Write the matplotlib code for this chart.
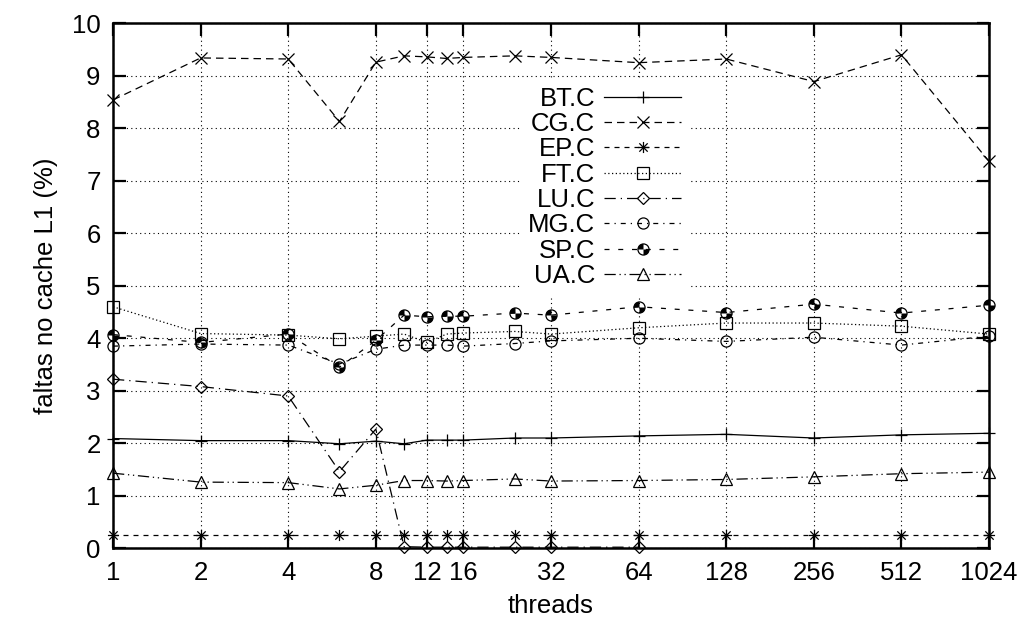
import numpy as np
import matplotlib
matplotlib.use("Agg")
import matplotlib.pyplot as plt
from matplotlib.path import Path
from matplotlib.legend_handler import HandlerTuple

plt.rcParams['font.family'] = ['Liberation Sans', 'DejaVu Sans']
plt.rcParams['font.size'] = 18.5

threads = [1, 2, 4, 6, 8, 10, 12, 14, 16, 24, 32, 64, 128, 256, 512, 1024]
xticks = [1, 2, 4, 8, 12, 16, 32, 64, 128, 256, 512, 1024]

bt = [2.09, 2.05, 2.05, 1.99, 2.04, 1.99, 2.06, 2.06, 2.06, 2.10, 2.10, 2.14, 2.17, 2.10, 2.16, 2.19]
cg = [8.54, 9.34, 9.32, 8.13, 9.26, 9.38, 9.36, 9.33, 9.35, 9.38, 9.35, 9.25, 9.32, 8.89, 9.40, 7.37]
ep = [0.25, 0.25, 0.25, 0.25, 0.25, 0.25, 0.25, 0.25, 0.25, 0.25, 0.25, 0.25, 0.25, 0.25, 0.25, 0.25]
ft = [4.60, 4.09, 4.06, 3.99, 4.04, 4.08, 3.92, 4.08, 4.10, 4.13, 4.08, 4.20, 4.29, 4.29, 4.23, 4.08]
lu = [3.22, 3.08, 2.90, 1.46, 2.27, 0.03, 0.02, 0.02, 0.02, 0.02, 0.02, 0.02, np.nan, np.nan, np.nan, np.nan]
mg = [3.85, 3.89, 3.87, 3.51, 3.79, 3.87, 3.87, 3.87, 3.85, 3.90, 3.95, 4.00, 3.94, 4.02, 3.87, 4.04]
sp = [4.07, 3.92, 4.08, 3.45, 3.96, 4.44, 4.41, 4.42, 4.42, 4.48, 4.44, 4.60, 4.49, 4.65, 4.48, 4.63]
ua = [1.43, 1.26, 1.25, 1.13, 1.20, 1.29, 1.29, 1.28, 1.29, 1.32, 1.28, 1.29, 1.31, 1.36, 1.42, 1.45]

# gnuplot-like star: plus and cross together
star = Path([(0, -1), (0, 1), (-1, 0), (1, 0), (-0.75, -0.75), (0.75, 0.75), (-0.75, 0.75), (0.75, -0.75)],
            [Path.MOVETO, Path.LINETO] * 4)
# two black quarters for the SP circle
quarters = Path.make_compound_path(Path.wedge(90, 180), Path.wedge(270, 360))

series = [
    ("BT.C", bt, '+', '-'),
    ("CG.C", cg, 'x', (0, (6, 4))),
    ("EP.C", ep, star, (0, (4, 4))),
    ("FT.C", ft, 's', (0, (1, 2))),
    ("LU.C", lu, 'D', (0, (9, 4, 1, 4))),
    ("MG.C", mg, 'o', (0, (4, 4, 1, 4))),
    ("SP.C", sp, 'o', (0, (4, 7))),
    ("UA.C", ua, '^', (0, (9, 3, 1, 3, 1, 3))),
]

fig, ax = plt.subplots(figsize=(10.23, 6.23), dpi=100)
fig.subplots_adjust(left=0.1105, right=0.9668, bottom=0.12, top=0.9626)

handles = []
labels = []
for name, vals, mk, ls in series:
    size = 6.5 if mk == 'D' else 8
    line, = ax.plot(threads, vals, color='black', lw=0.9, linestyle=ls, marker=mk,
                    markersize=size, markerfacecolor='none', markeredgecolor='black',
                    markeredgewidth=0.9, clip_on=False, zorder=3)
    if name == "SP.C":
        fill, = ax.plot(threads, vals, linestyle='none', marker=quarters, markersize=8,
                        markerfacecolor='black', markeredgewidth=0, clip_on=False, zorder=4)
        handles.append((line, fill))
    else:
        handles.append(line)
    labels.append(name)

ax.set_xscale('log', base=2)
ax.set_xlim(1, 1024)
ax.set_ylim(0, 10)
ax.set_xticks(xticks)
ax.set_xticklabels([str(t) for t in xticks])
ax.minorticks_off()
ax.set_yticks(range(0, 11))

ax.grid(True, color='black', linestyle=(0, (1, 3)), lw=0.8)
ax.set_axisbelow(True)
ax.tick_params(direction='in', length=9, width=1.6, top=True, right=True)
ax.tick_params(axis='x', pad=9)
ax.tick_params(axis='y', pad=9)
for s in ax.spines.values():
    s.set_linewidth(1.8)

ax.set_xlabel("threads", labelpad=7)
ax.set_ylabel("faltas no cache L1 (%)", labelpad=10)

leg = ax.legend(handles, labels, loc='upper right', bbox_to_anchor=(0.672, 0.918),
                markerfirst=False, handlelength=3.0, handletextpad=0.35, labelspacing=0.05,
                borderpad=0.3, frameon=True, fancybox=False, framealpha=1,
                facecolor='white', edgecolor='none', numpoints=1,
                handler_map={tuple: HandlerTuple(ndivide=1)})
leg.set_zorder(5)

fig.savefig("out.png", dpi=100)
